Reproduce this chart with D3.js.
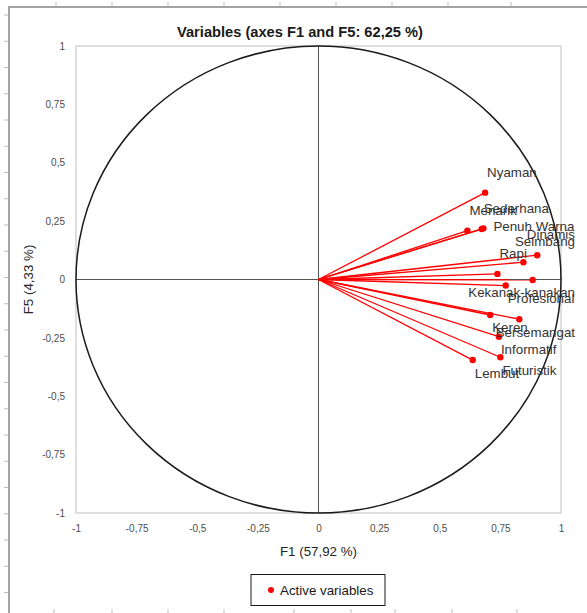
<!DOCTYPE html>
<html>
<head>
<meta charset="utf-8">
<script src="https://cdn.jsdelivr.net/npm/d3@7"></script>
<style>
    body { margin: 0; background: white; }
    svg { display: block; }
</style>
</head>
<body>
<div id="vis"></div>
<script>
// correlations of the variables with the factors F1 and F5
var variables = ["Nyaman", "Menarik", "Sederhana", "Penuh Warna", "Dinamis", "Seimbang", "Rapi",
                 "Kekanak-kanakan", "Profesional", "Keren", "Bersemangat", "Informatif", "Futuristik", "Lembut"];
var f1 = [0.687, 0.614, 0.673, 0.680, 0.902, 0.845, 0.738, 0.883, 0.772, 0.708, 0.828, 0.744, 0.750, 0.636];
var f5 = [0.372, 0.209, 0.216, 0.219, 0.104, 0.074, 0.024, -0.002, -0.026, -0.152, -0.170, -0.245, -0.333, -0.345];

var ticks = [-1, -0.75, -0.5, -0.25, 0, 0.25, 0.5, 0.75, 1];

var title = "Variables (axes F1 and F5: 62,25 %)";
var xTitle = "F1 (57,92 %)";
var yTitle = "F5 (4,33 %)";
var legendText = "Active variables";

// where each label sits relative to its point
var labelPos = ["above", "above", "above", "right", "above", "above", "above",
                "below", "below", "below", "below", "below", "below", "below"];

function draw(width, height) {
    var svg = d3.select("#vis").append("svg")
        .attr("width", width)
        .attr("height", height);

    var font = "'Liberation Sans', Arial, sans-serif";

    // sheet frame behind the chart
    var frame = svg.append("g").attr("stroke", "#bdbdbd");
    [56, 112, 168, 224, 280, 336, 392, 448, 511].forEach(function(x) {
        frame.append("line").attr("x1", x).attr("x2", x).attr("y1", 2).attr("y2", 7);
    });
    [54, 112, 168, 224, 294, 351, 395, 452, 517].forEach(function(x) {
        frame.append("line").attr("x1", x).attr("x2", x).attr("y1", 609).attr("y2", 613);
    });
    d3.range(15, height, 26.25).forEach(function(y) {
        frame.append("line").attr("x1", 4).attr("x2", 9).attr("y1", y).attr("y2", y);
    });
    svg.append("path")
        .attr("d", "M9," + height + "V7H" + width)
        .attr("fill", "none")
        .attr("stroke", "#a3a3a3")
        .attr("stroke-width", 2);

    var x = d3.scaleLinear().domain([-1, 1]).range([76, 561]);
    var y = d3.scaleLinear().domain([-1, 1]).range([513, 46]);

    // plot area
    svg.append("rect")
        .attr("x", x(-1)).attr("y", y(1))
        .attr("width", x(1) - x(-1)).attr("height", y(-1) - y(1))
        .attr("fill", "none")
        .attr("stroke", "#d4d4d4")
        .attr("stroke-width", 1.5);

    // axes through the origin
    svg.append("line")
        .attr("x1", x(0)).attr("x2", x(0)).attr("y1", y(1)).attr("y2", y(-1))
        .attr("stroke", "#555").attr("stroke-width", 1);
    svg.append("line")
        .attr("x1", x(-1)).attr("x2", x(1)).attr("y1", y(0)).attr("y2", y(0))
        .attr("stroke", "#555").attr("stroke-width", 1);

    // correlation circle
    svg.append("ellipse")
        .attr("cx", x(0)).attr("cy", y(0))
        .attr("rx", x(1) - x(0)).attr("ry", y(0) - y(1))
        .attr("fill", "none")
        .attr("stroke", "#1a1a1a")
        .attr("stroke-width", 1.5);

    var fmt = function(d) { return String(d).replace(".", ","); };

    var xAxis = svg.append("g")
        .attr("transform", "translate(0," + 529 + ")")
        .call(d3.axisBottom(x).tickValues(ticks).tickFormat(fmt).tickSize(0).tickPadding(0));
    xAxis.select(".domain").remove();
    xAxis.selectAll("text")
        .attr("dy", "0.32em")
        .attr("font-family", font).attr("font-size", 10).attr("fill", "#4d4d4d");

    var yAxis = svg.append("g")
        .attr("transform", "translate(" + 65 + ",0)")
        .call(d3.axisLeft(y).tickValues(ticks).tickFormat(fmt).tickSize(0).tickPadding(0));
    yAxis.select(".domain").remove();
    yAxis.selectAll("text")
        .attr("font-family", font).attr("font-size", 10).attr("fill", "#4d4d4d");

    // vectors
    variables.forEach(function(name, i) {
        svg.append("line")
            .attr("x1", x(0)).attr("y1", y(0))
            .attr("x2", x(f1[i])).attr("y2", y(f5[i]))
            .attr("stroke", "#ff0000").attr("stroke-width", 1.3);
    });
    variables.forEach(function(name, i) {
        svg.append("circle")
            .attr("cx", x(f1[i])).attr("cy", y(f5[i])).attr("r", 3.2)
            .attr("fill", "#ff0000");
    });

    // labels, pushed back inside the chart on the right
    variables.forEach(function(name, i) {
        var px = x(f1[i]), py = y(f5[i]);
        var t = svg.append("text")
            .attr("font-family", font).attr("font-size", 13.33)
            .attr("fill", "#333")
            .text(name);
        var w = t.node().getComputedTextLength();
        var lx, ly;
        if (labelPos[i] == "right") {
            lx = px + 10; ly = py + 3;
        } else if (labelPos[i] == "above") {
            lx = px + 2; ly = py - 16;
        } else {
            lx = px + 2; ly = py + 17.5;
        }
        lx = Math.min(lx, 575 - w);
        t.attr("x", lx).attr("y", ly);
    });

    // titles
    svg.append("text")
        .attr("x", 300).attr("y", 37)
        .attr("text-anchor", "middle")
        .attr("font-family", font).attr("font-size", 14.67).attr("font-weight", "bold")
        .attr("fill", "#1a1a1a")
        .text(title);

    svg.append("text")
        .attr("x", x(0)).attr("y", 556)
        .attr("text-anchor", "middle")
        .attr("font-family", font).attr("font-size", 13.33)
        .attr("fill", "#262626")
        .text(xTitle);

    svg.append("text")
        .attr("transform", "translate(33," + y(0) + ") rotate(-90)")
        .attr("text-anchor", "middle")
        .attr("font-family", font).attr("font-size", 13.33)
        .attr("fill", "#262626")
        .text(yTitle);

    // legend
    var legend = svg.append("g");
    legend.append("rect")
        .attr("x", 251).attr("y", 574.5)
        .attr("width", 134).attr("height", 31)
        .attr("fill", "white")
        .attr("stroke", "#1a1a1a").attr("stroke-width", 1);
    legend.append("circle")
        .attr("cx", 271).attr("cy", 590).attr("r", 3)
        .attr("fill", "#ff0000");
    legend.append("text")
        .attr("x", 280).attr("y", 595)
        .attr("font-family", font).attr("font-size", 13.33)
        .attr("fill", "#1a1a1a")
        .text(legendText);
}

draw(587, 613);
</script>
</body>
</html>
